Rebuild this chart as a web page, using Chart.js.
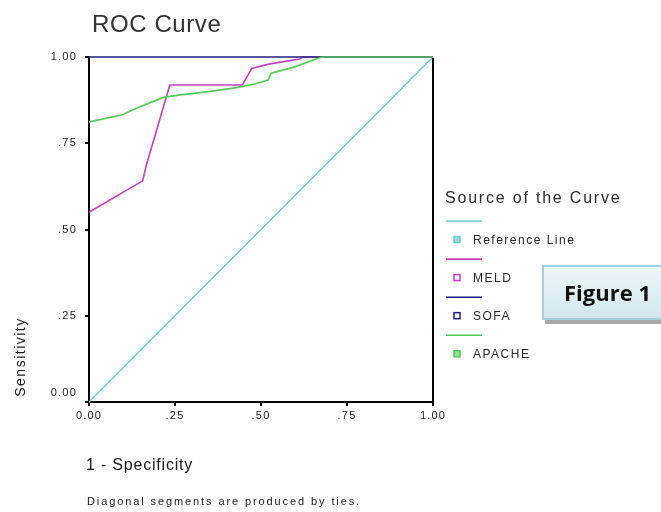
<!DOCTYPE html>
<html>
<head>
<meta charset="utf-8">
<script src="https://cdn.jsdelivr.net/npm/chart.js@4.4.1/dist/chart.umd.min.js"></script>
<style>
  html, body { margin: 0; padding: 0; background: #fff; overflow: hidden; }
  #wrap { position: relative; width: 661px; height: 512px; overflow: hidden; }
  #c { display: block; }
  #fig {
    position: absolute; left: 542px; top: 265px; width: 140px; height: 55px;
    box-sizing: border-box; border: 2px solid #a6d0dd;
    background: linear-gradient(#eef7fa, #d2e7ee);
    box-shadow: 3px 4px 0 #a9a9a9;
    font: 700 22px "Open Sans", sans-serif; color: #111;
    padding-left: 20px; line-height: 51px; white-space: nowrap;
  }
</style>
</head>
<body>
<div id="wrap">
  <canvas id="c" width="661" height="512"></canvas>
  <div id="fig">Figure 1</div>
</div>
<script>
// Axis ticks
const tickValues = [0, 0.25, 0.5, 0.75, 1];
const xTickLabels = ['0.00', '.25', '.50', '.75', '1.00'];
const yTickLabels = ['0.00', '.25', '.50', '.75', '1.00'];

// Curve names (legend order)
const seriesNames = ['Reference Line', 'MELD', 'SOFA', 'APACHE'];

// Reference diagonal
const refFpr = [0, 1];
const refTpr = [0, 1];

// MELD ROC curve (1 - specificity, sensitivity)
const meldFpr = [0, 0.156, 0.166, 0.235, 0.446, 0.473, 0.526, 0.613, 0.62, 1];
const meldTpr = [0.55, 0.641, 0.684, 0.919, 0.919, 0.967, 0.980, 0.994, 1, 1];

// SOFA ROC curve
const sofaFpr = [0, 1];
const sofaTpr = [1, 1];

// APACHE ROC curve
const apacheFpr = [0, 0.095, 0.148, 0.216, 0.265, 0.342, 0.429, 0.478, 0.521, 0.529, 0.594, 0.676, 1];
const apacheTpr = [0.812, 0.832, 0.856, 0.883, 0.890, 0.899, 0.911, 0.921, 0.933, 0.953, 0.970, 1, 1];

const toPoints = (xs, ys) => xs.map((x, i) => ({ x: x, y: ys[i] }));

const FONT = '"Liberation Sans", Arial, sans-serif';
const TEXT = '#1a1a1a';

function lineSet(label, xs, ys, color, width, order, legendFill) {
  return {
    label: label,
    data: toPoints(xs, ys),
    showLine: true,
    borderColor: color,
    backgroundColor: color,
    borderWidth: width,
    pointRadius: 0,
    pointHoverRadius: 0,
    tension: 0,
    clip: 4,
    order: order,
    legendFill: legendFill
  };
}

// Letter spacing for all canvas text (ticks use it too)
const spacingPlugin = {
  id: 'spacing',
  beforeDraw(chart) { chart.ctx.letterSpacing = '1.2px'; }
};

// Title, axis titles, footnote, right frame and the curve legend
const extrasPlugin = {
  id: 'extras',
  afterDraw(chart) {
    const ctx = chart.ctx;
    const area = chart.chartArea;
    const ys = chart.scales.y;
    ctx.save();

    // right frame line
    ctx.strokeStyle = '#000';
    ctx.lineWidth = 2;
    ctx.beginPath();
    ctx.moveTo(area.right, area.top + 1);
    ctx.lineTo(area.right, area.bottom + 1);
    ctx.stroke();

    // lowest y tick label, raised clear of the x labels
    ctx.fillStyle = TEXT;
    ctx.font = '11px ' + FONT;
    ctx.letterSpacing = '1.2px';
    ctx.textAlign = 'right';
    ctx.textBaseline = 'middle';
    ctx.fillText(yTickLabels[0], area.left - 12, ys.getPixelForValue(tickValues[0]) - 9);

    ctx.textAlign = 'left';
    ctx.textBaseline = 'alphabetic';

    // chart title
    ctx.fillStyle = '#333';
    ctx.font = '24px ' + FONT;
    ctx.letterSpacing = '0.6px';
    ctx.fillText('ROC Curve', area.left + 3, 32);

    // x axis title
    ctx.fillStyle = TEXT;
    ctx.font = '16px ' + FONT;
    ctx.letterSpacing = '0.8px';
    ctx.fillText('1 - Specificity', area.left - 3, 470);

    // footnote
    ctx.font = '11px ' + FONT;
    ctx.letterSpacing = '1.9px';
    ctx.fillText('Diagonal segments are produced by ties.', area.left - 2, 505);

    // y axis title
    ctx.save();
    ctx.translate(25, 357);
    ctx.rotate(-Math.PI / 2);
    ctx.font = '14px ' + FONT;
    ctx.letterSpacing = '1.5px';
    ctx.textAlign = 'center';
    ctx.fillText('Sensitivity', 0, 0);
    ctx.restore();

    // legend
    const lx = area.right + 13;
    ctx.fillStyle = '#2a2a2a';
    ctx.font = '16px ' + FONT;
    ctx.letterSpacing = '1.8px';
    ctx.fillText('Source of the Curve', lx - 1, 203);

    ctx.font = '12px ' + FONT;
    ctx.letterSpacing = '1.5px';
    chart.data.datasets.forEach((ds, i) => {
      const lineY = 221 + i * 38.1;
      const markY = lineY + 18.5;
      ctx.strokeStyle = ds.borderColor;
      ctx.lineWidth = 1.6;
      ctx.beginPath();
      ctx.moveTo(lx, lineY);
      ctx.lineTo(lx + 36, lineY);
      ctx.stroke();
      ctx.fillStyle = ds.legendFill;
      ctx.fillRect(lx + 8, markY - 3, 6, 6);
      ctx.lineWidth = 1.5;
      ctx.strokeRect(lx + 8, markY - 3, 6, 6);
      ctx.fillStyle = '#2a2a2a';
      ctx.fillText(ds.label, lx + 27, markY + 4.5);
    });

    ctx.restore();
  }
};

const axisCommon = {
  type: 'linear',
  min: 0,
  max: 1,
  border: { display: true, color: '#000', width: 2 },
  grid: { display: true, drawOnChartArea: false, drawTicks: true, tickLength: 4, color: '#000', lineWidth: 2 }
};

new Chart(document.getElementById('c'), {
  type: 'scatter',
  data: {
    datasets: [
      lineSet(seriesNames[0], refFpr, refTpr, '#66cccc', 1.2, 3, '#8ee0e0'),
      lineSet(seriesNames[1], meldFpr, meldTpr, '#c040c0', 1.6, 2, '#ffffff'),
      lineSet(seriesNames[2], sofaFpr, sofaTpr, '#202080', 1.6, 1, '#ffffff'),
      lineSet(seriesNames[3], apacheFpr, apacheTpr, '#58c858', 1.7, 0, '#8fe08f')
    ]
  },
  options: {
    responsive: false,
    devicePixelRatio: 1,
    animation: false,
    events: [],
    layout: { padding: { left: 0, right: 228, top: 57, bottom: 0 } },
    plugins: {
      legend: { display: false },
      title: { display: false },
      tooltip: { enabled: false }
    },
    scales: {
      x: Object.assign({}, axisCommon, {
        position: 'bottom',
        afterBuildTicks: s => { s.ticks = tickValues.map(v => ({ value: v })); },
        afterFit: s => { s.height = 110; },
        ticks: {
          autoSkip: false, maxRotation: 0, padding: 3,
          color: TEXT, font: { family: FONT, size: 11 },
          callback: (v, i) => xTickLabels[i]
        }
      }),
      y: Object.assign({}, axisCommon, {
        position: 'left',
        afterBuildTicks: s => { s.ticks = tickValues.map(v => ({ value: v })); },
        afterFit: s => { s.width = 89; },
        ticks: {
          autoSkip: false, padding: 8,
          color: TEXT, font: { family: FONT, size: 11 },
          callback: (v, i) => (i === 0 ? '' : yTickLabels[i])
        }
      })
    }
  },
  plugins: [spacingPlugin, extrasPlugin]
});
</script>
</body>
</html>
